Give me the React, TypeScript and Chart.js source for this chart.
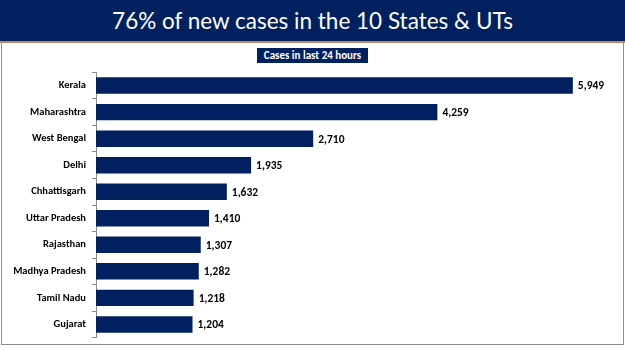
import React, { useEffect, useRef } from "react";
import { Chart, registerables } from "chart.js";

Chart.register(...registerables);

const TITLE = "76% of new cases in the 10 States & UTs";
const SUBTITLE = "Cases in last 24 hours";
const STATES = [
  "Kerala",
  "Maharashtra",
  "West Bengal",
  "Delhi",
  "Chhattisgarh",
  "Uttar Pradesh",
  "Rajasthan",
  "Madhya Pradesh",
  "Tamil Nadu",
  "Gujarat",
];
const CASES = [5949, 4259, 2710, 1935, 1632, 1410, 1307, 1282, 1218, 1204];

const NAVY = "#002060";
const LABEL_FONT = "Carlito, Lato, 'Liberation Sans', sans-serif";

const valueLabels = {
  id: "valueLabels",
  afterDatasetsDraw(chart: any) {
    const ctx = chart.ctx;
    const meta = chart.getDatasetMeta(0);
    ctx.save();
    ctx.fillStyle = "#000";
    ctx.font = `bold 11.5px ${LABEL_FONT}`;
    ctx.textAlign = "left";
    ctx.textBaseline = "middle";
    meta.data.forEach((bar: any, i: number) => {
      ctx.fillText(CASES[i].toLocaleString("en-US"), bar.x + 5, bar.y + 1);
    });
    ctx.restore();
  },
};

export default function App() {
  const ref = useRef<HTMLCanvasElement | null>(null);

  useEffect(() => {
    if (!ref.current) return;
    const chart = new Chart(ref.current, {
      type: "bar",
      data: {
        labels: STATES,
        datasets: [
          {
            data: CASES,
            backgroundColor: NAVY,
            borderWidth: 0,
            categoryPercentage: 1,
            barPercentage: 0.62,
          },
        ],
      },
      options: {
        indexAxis: "y",
        animation: false,
        responsive: false,
        maintainAspectRatio: false,
        layout: { padding: { top: 11, bottom: 12, left: 0, right: 8 } },
        plugins: {
          legend: { display: false },
          tooltip: { enabled: false },
          title: { display: false },
        },
        scales: {
          x: { display: false, min: 0, max: 6500 },
          y: {
            afterFit(scale: any) {
              scale.width = 96;
            },
            border: { display: true, color: "#8c8c8c", width: 1 },
            grid: {
              drawOnChartArea: false,
              drawTicks: true,
              tickLength: 4,
              color: "#8c8c8c",
              offset: true,
            },
            ticks: {
              color: "#000",
              padding: 6,
              font: { family: LABEL_FONT, size: 10.5, weight: "bold" },
            },
          },
        },
      },
      plugins: [valueLabels],
    });
    return () => chart.destroy();
  }, []);

  return (
    <div
      style={{
        position: "fixed",
        left: 0,
        top: 0,
        width: 625,
        height: 351,
        background: "#fff",
        overflow: "hidden",
      }}
    >
      <div
        style={{
          position: "absolute",
          left: 0,
          top: 0,
          width: 625,
          height: 41,
          background: NAVY,
          color: "#fff",
          fontFamily: "Lato, 'Open Sans', sans-serif",
          fontSize: 22.5,
          lineHeight: "41px",
          textAlign: "center",
        }}
      >
        {TITLE}
      </div>
      <div
        style={{
          position: "absolute",
          left: 0,
          top: 41,
          width: 625,
          height: 2,
          background: "#c8875a",
        }}
      />
      <div
        style={{
          position: "absolute",
          left: 1,
          top: 43,
          width: 621,
          height: 301,
          borderLeft: "1px solid #8c8c8c",
          borderRight: "1px solid #8c8c8c",
          borderBottom: "1px solid #8c8c8c",
        }}
      />
      <div
        style={{
          position: "absolute",
          left: 257,
          top: 48,
          width: 111,
          height: 15,
          background: NAVY,
          color: "#fff",
          fontFamily: LABEL_FONT,
          fontWeight: "bold",
          fontSize: 11,
          lineHeight: "15px",
          textAlign: "center",
          whiteSpace: "nowrap",
        }}
      >
        {SUBTITLE}
      </div>
      <canvas
        ref={ref}
        width={625}
        height={290}
        style={{ position: "absolute", left: 0, top: 60, width: 625, height: 290 }}
      />
    </div>
  );
}
